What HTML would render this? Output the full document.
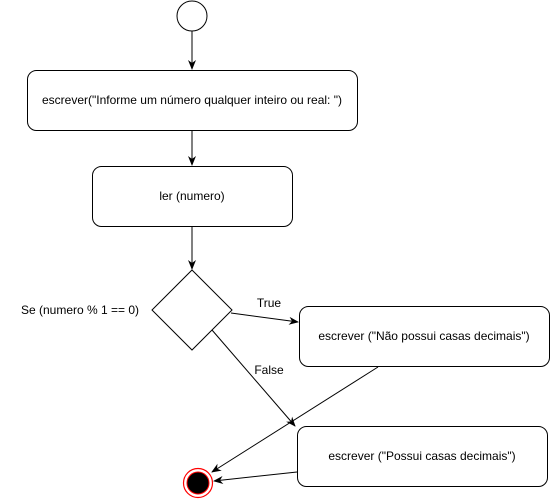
<!DOCTYPE html>
<html><head><meta charset="utf-8"><style>
body{margin:0;background:#fff;}
svg{display:block;}
text{font-family:"Liberation Sans",Arial,sans-serif;font-size:12px;fill:#000;}
</style></head><body>
<svg width="550" height="499" viewBox="0 0 550 499">
<defs>
<marker id="a" viewBox="0 0 10 10" refX="9" refY="5" markerWidth="10" markerHeight="10" markerUnits="userSpaceOnUse" orient="auto">
<path d="M0,1 L10,5 L0,9 L3,5 Z" fill="#000"/>
</marker>
</defs>
<g stroke="#000" fill="none" stroke-width="1">
<circle cx="192" cy="16" r="15" fill="#fff"/>
<line x1="192" y1="31" x2="192" y2="69" marker-end="url(#a)"/>
<rect x="27.5" y="70.5" width="330" height="60" rx="9" fill="#fff"/>
<line x1="192" y1="131" x2="192" y2="165" marker-end="url(#a)"/>
<rect x="92.5" y="166.5" width="200" height="60" rx="9" fill="#fff"/>
<line x1="192" y1="227" x2="192" y2="269" marker-end="url(#a)"/>
<polygon points="192,270 232,310 192,350 152,310" fill="#fff"/>
<line x1="231" y1="313" x2="298" y2="322" marker-end="url(#a)"/>
<line x1="212" y1="330" x2="295" y2="426" marker-end="url(#a)"/>
<rect x="299.5" y="306.5" width="250" height="60" rx="9" fill="#fff"/>
<line x1="378" y1="367" x2="212" y2="472" marker-end="url(#a)"/>
<rect x="297.5" y="426.5" width="250" height="60" rx="9" fill="#fff"/>
<line x1="297" y1="472" x2="214" y2="481" marker-end="url(#a)"/>
</g>
<circle cx="198" cy="483" r="14.5" fill="#fff" stroke="#f00" stroke-width="1.2"/>
<circle cx="198" cy="483" r="11" fill="#000" stroke="#f00" stroke-width="1"/>
<text x="192" y="104" text-anchor="middle">escrever("Informe um número qualquer inteiro ou real: ")</text>
<text x="192" y="200" text-anchor="middle">ler (numero)</text>
<text x="80" y="314" text-anchor="middle">Se (numero % 1 == 0)</text>
<text x="269" y="307" text-anchor="middle">True</text>
<text x="269" y="374" text-anchor="middle">False</text>
<text x="424" y="340" text-anchor="middle">escrever ("Não possui casas decimais")</text>
<text x="422" y="460" text-anchor="middle">escrever ("Possui casas decimais")</text>
</svg>
</body></html>
